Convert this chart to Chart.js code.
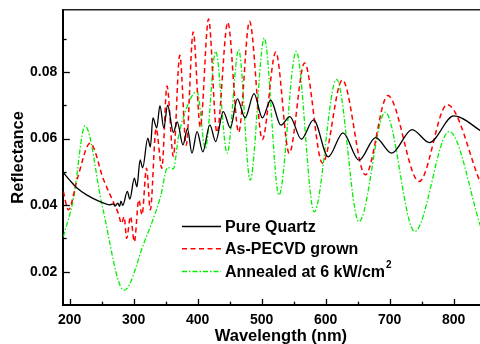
<!DOCTYPE html>
<html><head><meta charset="utf-8">
<script src="https://cdn.jsdelivr.net/npm/chart.js@4.4.1/dist/chart.umd.min.js"></script>
<style>
html,body{margin:0;padding:0;background:#fff;overflow:hidden;width:480px;height:344px}
#wrap{width:500px;height:344px;position:relative}
</style></head>
<body><div id="wrap"><canvas id="c" width="500" height="344"></canvas></div>
<script>
// ---- data ----
const quartzX = [190,200,211,227,248,262,268,271,275,278,280,283,290,294,301,305,310,314,322,326,330,336,341,347,353,362,368,377,384,391,399,408,419,428,440,451,462,474,488,501,514,530,544,562,581,604,627,652,678,703,735,762,800,845];
const quartzY = [0.0498,0.0475,0.0452,0.0430,0.0410,0.0401,0.0404,0.0397,0.0406,0.0396,0.0412,0.0399,0.0441,0.0418,0.0481,0.0455,0.0536,0.0512,0.0601,0.0575,0.0662,0.0632,0.0699,0.0632,0.0700,0.0618,0.0650,0.0581,0.0630,0.0556,0.0621,0.0560,0.0641,0.0591,0.0681,0.0632,0.0719,0.0662,0.0735,0.0662,0.0715,0.0640,0.0666,0.0598,0.0656,0.0545,0.0617,0.0535,0.0603,0.0556,0.0627,0.0588,0.0668,0.0620];

const pecvdX = [190,198,212,232,253,269,276,281,285,289,295,301,308,313,320,326,335,344,352,362,372,382,393,404,417,430,447,464,481,501,522,543,567,595,626,662,697,746,790,842];
const pecvdY = [0.0441,0.0386,0.0480,0.0586,0.0476,0.0406,0.0375,0.0345,0.0365,0.0300,0.0366,0.0290,0.0416,0.0371,0.0511,0.0386,0.0630,0.0511,0.0758,0.0546,0.0850,0.0580,0.0920,0.0635,0.0959,0.0618,0.0949,0.0619,0.0952,0.0597,0.0860,0.0556,0.0827,0.0526,0.0776,0.0491,0.0729,0.0471,0.0702,0.0466];

const annealX = [190,206,224,251,285,316,342,353,362,370,378,399,412,428,446,464,482,504,527,554,582,617,652,693,739,793,842];
const annealY = [0.0305,0.0420,0.0638,0.0396,0.0144,0.0286,0.0426,0.0513,0.0509,0.0606,0.0666,0.0742,0.0570,0.0862,0.0556,0.0867,0.0475,0.0902,0.0430,0.0862,0.0380,0.0778,0.0350,0.0679,0.0321,0.0621,0.0336];

const seriesNames = ['Pure Quartz','As-PECVD grown','Annealed at 6 kW/cm'];
const xTickLabels = [200,300,400,500,600,700,800];
const xMinorTicks = [250,350,450,550,650,750,850];
const yTickLabels = [0.02,0.04,0.06,0.08];
const yMinorTicks = [0.03,0.05,0.07,0.09];

const FONT = '"Liberation Sans", Arial, sans-serif';
const pts = (xs, ys) => xs.map((x, i) => ({x: x, y: ys[i]}));

const styles = [
  {color:'#000000', width:1.3, dash:[]},
  {color:'#ff0000', width:1.5, dash:[5,3.5]},
  {color:'#00f000', width:1.3, dash:[5,2,1.5,2]}
];

const tickPlugin = {
  id:'ticksIn',
  afterDraw(chart){
    const ctx = chart.ctx, a = chart.chartArea;
    const xs = chart.scales.x, ys = chart.scales.y;
    ctx.save();
    ctx.strokeStyle = '#000';
    ctx.lineWidth = 1.3;
    xTickLabels.concat(xMinorTicks).forEach(v => {
      const px = Math.round(xs.getPixelForValue(v)) + 0.5;
      const len = xTickLabels.includes(v) ? 6 : 3.3;
      ctx.beginPath(); ctx.moveTo(px, a.bottom); ctx.lineTo(px, a.bottom - len); ctx.stroke();
    });
    yTickLabels.concat(yMinorTicks).forEach(v => {
      const py = Math.round(ys.getPixelForValue(v)) + 0.5;
      const len = yTickLabels.includes(v) ? 6.5 : 3.3;
      ctx.beginPath(); ctx.moveTo(a.left, py); ctx.lineTo(a.left + len, py); ctx.stroke();
    });
    // top frame
    ctx.strokeStyle = '#222';
    ctx.lineWidth = 1.6;
    ctx.beginPath(); ctx.moveTo(a.left, a.top); ctx.lineTo(a.right, a.top); ctx.stroke();
    // legend
    const lx0 = 182, lx1 = 221, tx = 225;
    const rows = [226.5, 248.7, 271.5];
    ctx.textBaseline = 'middle';
    ctx.fillStyle = '#000';
    rows.forEach((ry, i) => {
      const s = styles[i];
      ctx.strokeStyle = s.color; ctx.lineWidth = s.width; ctx.setLineDash(s.dash);
      ctx.beginPath(); ctx.moveTo(lx0, ry); ctx.lineTo(lx1, ry); ctx.stroke();
      ctx.setLineDash([]);
      ctx.font = 'bold 16px ' + FONT;
      ctx.fillText(seriesNames[i], tx, ry + 1);
      if (i === 2) {
        const w = ctx.measureText(seriesNames[i]).width;
        ctx.font = 'bold 10px ' + FONT;
        ctx.fillText('2', tx + w + 1, ry - 6);
      }
    });
    ctx.restore();
  }
};

new Chart(document.getElementById('c'), {
  type:'line',
  data:{
    datasets:[
      {label:seriesNames[0], data:pts(quartzX, quartzY)},
      {label:seriesNames[1], data:pts(pecvdX, pecvdY)},
      {label:seriesNames[2], data:pts(annealX, annealY)}
    ].map((d, i) => Object.assign(d, {
      borderColor:styles[i].color, borderWidth:styles[i].width, borderDash:styles[i].dash,
      pointRadius:0, fill:false, cubicInterpolationMode:'monotone'
    }))
  },
  options:{
    responsive:false, animation:false, devicePixelRatio:1,
    layout:{padding:{top:9.7, right:1.5, left:0, bottom:0}},
    plugins:{legend:{display:false}, tooltip:{enabled:false}},
    scales:{
      x:{
        type:'linear', min:190, max:870, position:'bottom',
        afterBuildTicks(s){ s.ticks = xTickLabels.map(v => ({value:v})); },
        afterFit(s){ s.height = 39; s.paddingLeft = 0; s.paddingRight = 0; },
        grid:{display:false, drawTicks:false},
        border:{display:true, color:'#000', width:2},
        ticks:{autoSkip:false, maxRotation:0, padding:7, color:'#000',
          font:{family:FONT, size:14, weight:'bold'},
          callback:v => String(v)},
        title:{display:true, text:'Wavelength (nm)', color:'#000',
          font:{family:FONT, size:16.5, weight:'bold'}, padding:{top:0, bottom:-2}}
      },
      y:{
        type:'linear', min:0.01, max:0.0987,
        afterBuildTicks(s){ s.ticks = yTickLabels.map(v => ({value:v})); },
        afterFit(s){ s.width = 63.3; s.paddingTop = 0; s.paddingBottom = 0; },
        grid:{display:false, drawTicks:false},
        border:{display:true, color:'#000', width:2},
        ticks:{autoSkip:false, padding:6, color:'#000',
          font:{family:FONT, size:14, weight:'bold'},
          callback:v => v.toFixed(2)},
        title:{display:true, text:'Reflectance', color:'#000',
          font:{family:FONT, size:16.5, weight:'bold'}, padding:{top:9, bottom:0}}
      }
    }
  },
  plugins:[tickPlugin]
});
</script>
</body></html>
